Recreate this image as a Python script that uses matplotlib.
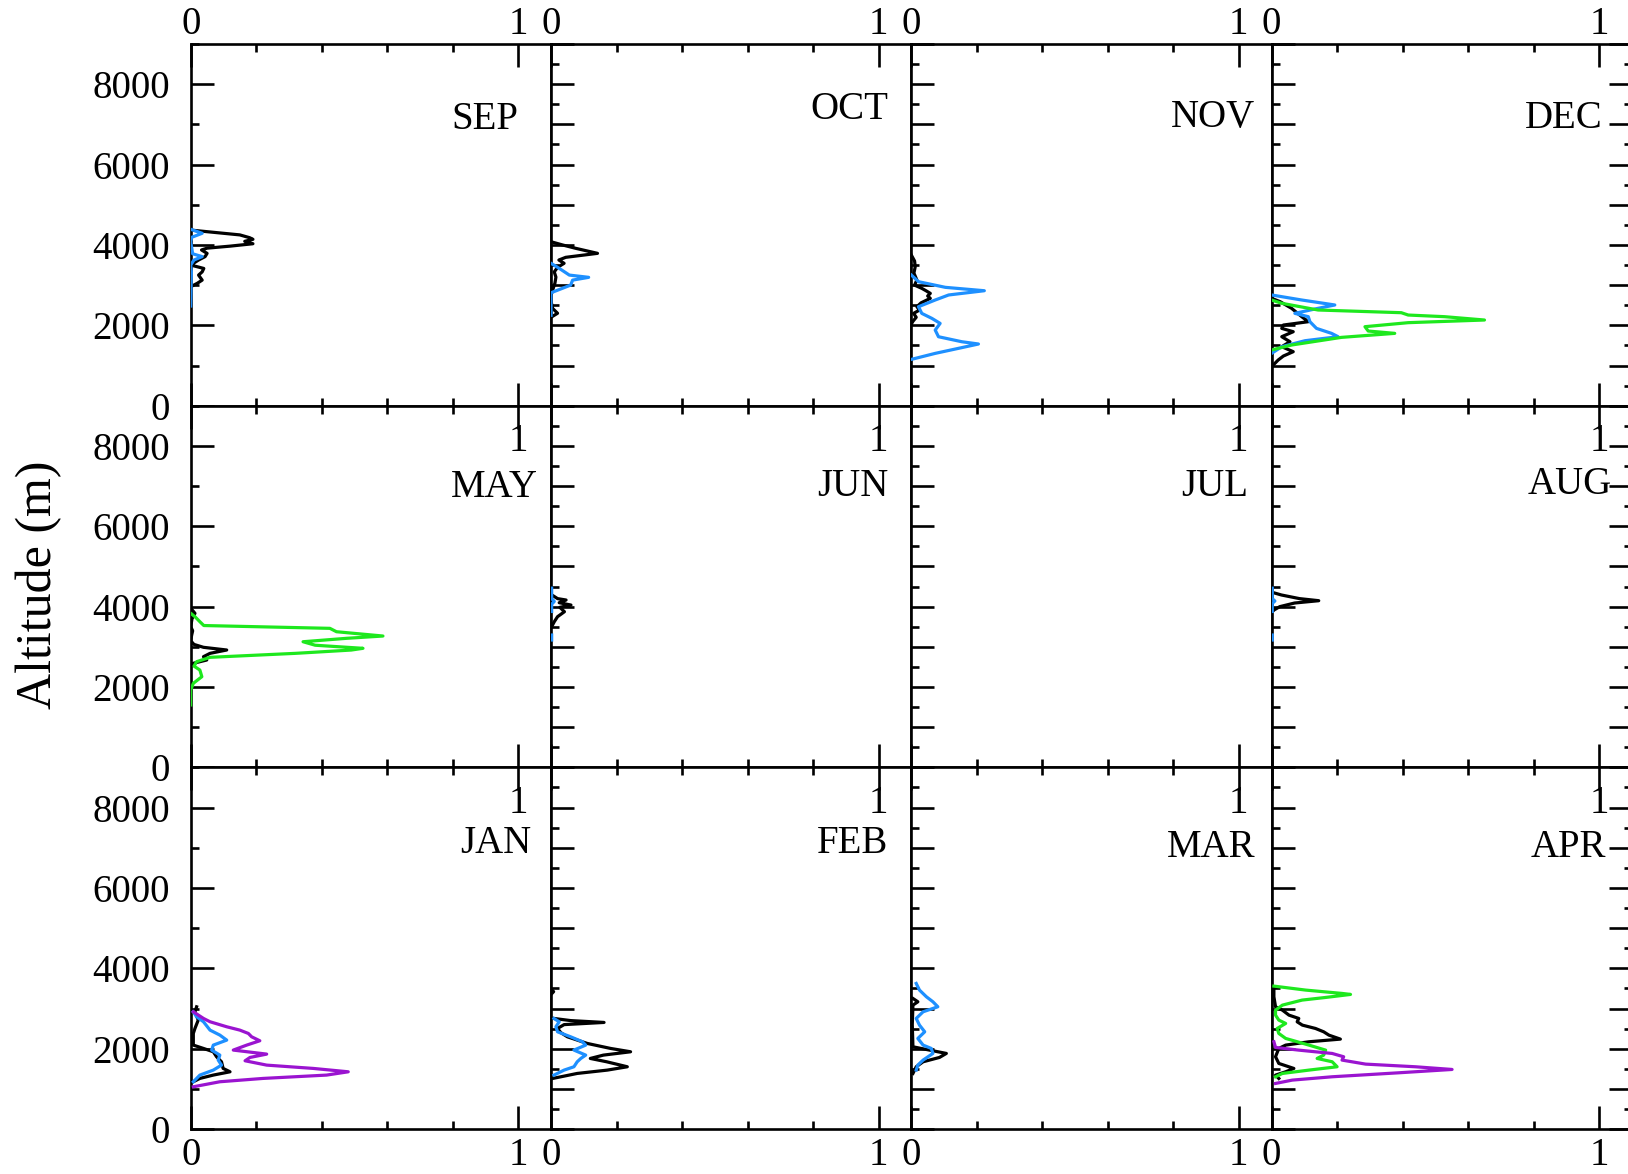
import numpy as np
import matplotlib.pyplot as plt
from matplotlib.ticker import FixedLocator, MultipleLocator

nan = np.nan

# ---- profiles: altitude (m) / normalised value, one pair per curve ----
# SEP
sep_k_alt = [4370, 4330, 4250, 4180, 4140, 4090, 4030, 3970, 3920, 3875, 3790, 3710, 3625, 3500, 3415, 3330, 3250, 3125, 3045, 2960]
sep_k = [0.0, 0.05, 0.15, 0.18, 0.19, 0.165, 0.19, 0.12, 0.05, 0.033, 0.05, 0.044, 0.024, 0.0, 0.04, 0.035, 0.024, 0.035, 0.02, 0.0]
sep_b_alt = [4390, 4290, 4190, 4080, 3780, 3710, 3625, 3500, 3330, 2480]
sep_b = [0.0, 0.035, 0.003, 0.0, 0.006, 0.035, 0.01, 0.0, 0.002, 0.0]
# OCT
oct_k_alt = [4080, 3998, 3915, 3791, 3692, 3625, 3543, 3443, 3330, 3200, 3050, 2900, 2750, 2600, 2420, 2300, 2250, 2200]
oct_k = [0.0, 0.036, 0.076, 0.142, 0.045, 0.024, 0.04, 0.02, 0.01, 0.015, 0.012, 0.006, 0.0, 0.0, 0.005, 0.02, 0.01, 0.0]
oct_b_alt = [3543, 3418, 3250, 3194, 3125, 3001, 2810, 2600, 2250]
oct_b = [0.0, 0.025, 0.056, 0.115, 0.066, 0.06, 0.0, 0.0, 0.0]
# NOV
nov_k_alt = [3750, 3600, 3459, 3300, 3127, 3000, 2920, 2860, 2795, 2730, 2671, 2560, 2463, 2380, 2297, 2200, 2100, 2030]
nov_k = [0.0, 0.01, 0.012, 0.008, 0.017, 0.01, 0.032, 0.045, 0.058, 0.05, 0.058, 0.03, 0.017, 0.025, 0.007, 0.015, 0.005, 0.0]
nov_b_alt = [3252, 3086, 2945, 2861, 2755, 2630, 2463, 2297, 2172, 2048, 1882, 1716, 1592, 1535, 1427, 1302, 1152]
nov_b = [0.0, 0.022, 0.104, 0.223, 0.114, 0.073, 0.022, 0.032, 0.063, 0.088, 0.073, 0.083, 0.154, 0.205, 0.144, 0.073, 0.0]
# DEC
dec_k_alt = [2672, 2589, 2423, 2215, 2090, 2007, 1924, 1841, 1717, 1592, 1468, 1344, 1236, 1136, 1012]
dec_k = [0.0, 0.026, 0.061, 0.092, 0.112, 0.036, 0.031, 0.066, 0.031, 0.056, 0.031, 0.066, 0.036, 0.02, 0.005]
dec_b_alt = [2755, 2630, 2506, 2423, 2298, 2215, 2090, 1924, 1800, 1717, 1617, 1468, 1302]
dec_b = [0.0, 0.092, 0.193, 0.142, 0.071, 0.112, 0.117, 0.137, 0.183, 0.203, 0.102, 0.031, 0.0]
dec_g_alt = [2630, 2548, 2381, 2314, 2256, 2215, 2132, 2066, 1966, 1858, 1800, 1700, 1510, 1386]
dec_g = [0.0, 0.031, 0.142, 0.396, 0.417, 0.528, 0.650, 0.417, 0.285, 0.295, 0.376, 0.213, 0.061, 0.0]
# MAY
may_k_alt = [3933, 3834, 3700, 3501, 3400, 3294, 3150, 3060, 2988, 2921, 2838, 2755, 2672, 2590, 2505]
may_k = [0.003, 0.013, 0.004, 0.0, 0.006, 0.003, 0.0, 0.01, 0.039, 0.11, 0.059, 0.039, 0.049, 0.008, 0.0]
may_g_alt = [3834, 3750, 3625, 3530, 3460, 3376, 3269, 3212, 3127, 3040, 2963, 2920, 2838, 2739, 2630, 2520, 2423, 2257, 2092, 1926, 1553]
may_g = [0.0, 0.013, 0.028, 0.04, 0.425, 0.445, 0.587, 0.476, 0.343, 0.38, 0.526, 0.49, 0.32, 0.059, 0.018, 0.01, 0.028, 0.034, 0.008, 0.0, 0.0]
# JUN
jun_k_alt = [4289, 4200, 4165, 4098, 4040, 3983, 3874, 3750, 3625, 3500]
jun_k = [0.003, 0.02, 0.046, 0.025, 0.061, 0.027, 0.041, 0.02, 0.01, 0.002]
jun_b_alt = [4460, 4200, 4130, 4060, 3880, nan, 3294, 3170]
jun_b = [0.002, 0.002, 0.01, 0.002, 0.002, nan, 0.002, 0.002]
# AUG
aug_k_alt = [4356, 4290, 4200, 4148, 4090, 4000, 3920, 3875]
aug_k = [0.002, 0.03, 0.085, 0.144, 0.07, 0.025, 0.008, 0.002]
aug_b_alt = [4460, 4200, 4140, 4080, 3880, nan, 3294, 3170]
aug_b = [0.002, 0.002, 0.01, 0.002, 0.002, nan, 0.002, 0.002]
# JAN
jan_k_alt = [3043, 2919, 2712, 2505, 2380, 2090, 2007, 1924, 1800, 1675, 1510, 1426, 1344, 1261, 1178]
jan_k = [0.018, 0.013, 0.023, 0.013, 0.008, 0.008, 0.039, 0.069, 0.079, 0.094, 0.099, 0.12, 0.069, 0.028, 0.008]
jan_b_alt = [2919, 2795, 2671, 2463, 2339, 2214, 2090, 1966, 1841, 1717, 1592, 1468, 1344, 1178]
jan_b = [0.008, 0.018, 0.039, 0.059, 0.089, 0.11, 0.069, 0.064, 0.089, 0.084, 0.094, 0.069, 0.028, 0.008]
jan_p_alt = [2919, 2754, 2671, 2546, 2463, 2380, 2297, 2198, 2090, 1966, 1866, 1783, 1700, 1592, 1510, 1426, 1344, 1261, 1178, 1053]
jan_p = [0.008, 0.039, 0.059, 0.11, 0.15, 0.176, 0.186, 0.211, 0.171, 0.13, 0.232, 0.181, 0.166, 0.232, 0.374, 0.481, 0.415, 0.221, 0.089, 0.008]
# FEB
feb_k_alt = [3480, 3420, 3350, nan, 2753, 2700, 2654, 2600, 2504, 2400, 2297, 2131, 2007, 1924, 1841, 1758, 1675, 1551, 1468, 1385, 1260]
feb_k = [0.0, 0.008, 0.0, nan, 0.009, 0.06, 0.162, 0.04, 0.02, 0.03, 0.05, 0.111, 0.182, 0.243, 0.16, 0.12, 0.17, 0.233, 0.172, 0.08, 0.005]
feb_b_alt = [2753, 2670, 2546, 2421, 2297, 2173, 2090, 1966, 1841, 1758, 1675, 1551, 1468, 1343]
feb_b = [0.009, 0.025, 0.015, 0.02, 0.06, 0.096, 0.106, 0.07, 0.106, 0.091, 0.08, 0.07, 0.04, 0.009]
# MAR
mar_k_alt = [3251, 3168, 3085, 2600, 2048, 1965, 1883, 1783, 1675, 1551, 1385]
mar_k = [0.005, 0.02, 0.005, 0.003, 0.005, 0.056, 0.107, 0.086, 0.036, 0.015, 0.005]
mar_b_alt = [3624, 3459, 3293, 3168, 3044, 2919, 2753, 2587, 2421, 2256, 2090, 2007, 1883, 1717, 1593, 1468]
mar_b = [0.015, 0.025, 0.046, 0.066, 0.081, 0.036, 0.015, 0.025, 0.041, 0.02, 0.036, 0.061, 0.066, 0.036, 0.02, 0.015]
# APR
apr_k_alt = [3541, 3293, 3044, 2960, 2836, 2753, 2670, 2587, 2504, 2421, 2338, 2239, 2173, 2090, 2007, 1800, 1634, 1509, 1426, 1343, 1260]
apr_k = [0.007, 0.007, 0.012, 0.033, 0.053, 0.083, 0.078, 0.094, 0.134, 0.159, 0.175, 0.21, 0.114, 0.043, 0.022, 0.012, 0.022, 0.068, 0.043, 0.012, 0.022]
apr_g_alt = [3558, 3459, 3376, 3351, 3276, 3210, 3085, 2960, 2836, 2712, 2629, 2504, 2380, 2256, 2090, 1965, 1841, 1758, 1675, 1551, 1468, 1385, 1302]
apr_g = [0.007, 0.104, 0.215, 0.241, 0.165, 0.093, 0.033, 0.012, 0.012, 0.022, 0.043, 0.017, 0.022, 0.043, 0.114, 0.165, 0.159, 0.139, 0.185, 0.2, 0.114, 0.033, 0.012]
apr_p_alt = [2173, 2032, 1965, 1882, 1800, 1717, 1617, 1551, 1484, 1401, 1302, 1219, 1136]
apr_p = [0.007, 0.012, 0.083, 0.185, 0.22, 0.215, 0.287, 0.439, 0.551, 0.388, 0.185, 0.063, 0.012]

BLACK, BLUE, GREEN, PURPLE = "#000000", "#1E90FF", "#1EE81E", "#9A14D0"

grid = [["SEP", "OCT", "NOV", "DEC"],
        ["MAY", "JUN", "JUL", "AUG"],
        ["JAN", "FEB", "MAR", "APR"]]

curves = {
    "SEP": [(sep_k_alt, sep_k, BLACK), (sep_b_alt, sep_b, BLUE)],
    "OCT": [(oct_k_alt, oct_k, BLACK), (oct_b_alt, oct_b, BLUE)],
    "NOV": [(nov_k_alt, nov_k, BLACK), (nov_b_alt, nov_b, BLUE)],
    "DEC": [(dec_k_alt, dec_k, BLACK), (dec_b_alt, dec_b, BLUE), (dec_g_alt, dec_g, GREEN)],
    "MAY": [(may_k_alt, may_k, BLACK), (may_g_alt, may_g, GREEN)],
    "JUN": [(jun_k_alt, jun_k, BLACK), (jun_b_alt, jun_b, BLUE)],
    "JUL": [],
    "AUG": [(aug_k_alt, aug_k, BLACK), (aug_b_alt, aug_b, BLUE)],
    "JAN": [(jan_k_alt, jan_k, BLACK), (jan_b_alt, jan_b, BLUE), (jan_p_alt, jan_p, PURPLE)],
    "FEB": [(feb_k_alt, feb_k, BLACK), (feb_b_alt, feb_b, BLUE)],
    "MAR": [(mar_k_alt, mar_k, BLACK), (mar_b_alt, mar_b, BLUE)],
    "APR": [(apr_k_alt, apr_k, BLACK), (apr_g_alt, apr_g, GREEN), (apr_p_alt, apr_p, PURPLE)],
}

# month label anchor (right edge, centre) in data units
label_pos = {
    "SEP": (1.00, 7130), "OCT": (1.03, 7380), "NOV": (1.05, 7180), "DEC": (1.01, 7150),
    "MAY": (1.06, 6960), "JUN": (1.03, 6980), "JUL": (1.03, 6980), "AUG": (1.04, 7030),
    "JAN": (1.04, 7110), "FEB": (1.03, 7110), "MAR": (1.05, 7000), "APR": (1.02, 7000),
}

plt.rcParams["font.family"] = ["Liberation Serif", "DejaVu Serif"]

W, H = 1628, 1174
fig = plt.figure(figsize=(W / 100, H / 100), dpi=100)

col_left = [190.7, 551.0, 911.3, 1271.6]
row_top = [44.0, 405.7, 767.4]
pw, ph = 360.3, 361.7

FS = 28
for r in range(3):
    for c in range(4):
        m = grid[r][c]
        ax = fig.add_axes([col_left[c] / W, 1 - (row_top[r] + ph) / H, pw / W, ph / H])
        for alt, val, col in curves[m]:
            ax.plot(val, alt, color=col, lw=2.3, zorder=3)
        ax.set_xlim(0, 1.1)
        ax.set_ylim(0, 9000)
        for s in ax.spines.values():
            s.set_linewidth(1.9)

        ax.xaxis.set_major_locator(FixedLocator([0, 1]))
        ax.xaxis.set_minor_locator(FixedLocator([0.2, 0.4, 0.6, 0.8]))
        if c == 0:
            ax.yaxis.set_major_locator(MultipleLocator(2000))
            ax.yaxis.set_minor_locator(MultipleLocator(1000))
        else:
            ax.yaxis.set_major_locator(MultipleLocator(1000))
            ax.yaxis.set_minor_locator(MultipleLocator(500))

        ax.tick_params(which="both", direction="in", top=True, bottom=True,
                       left=True, right=(c == 3), width=1.9,
                       labelsize=FS, labelleft=(c == 0), labelright=False,
                       labeltop=(r == 0), labelbottom=(r == 2))
        ax.tick_params(which="major", length=16.5)
        ax.tick_params(which="minor", length=6)
        ax.tick_params(axis="y", pad=15)
        ax.tick_params(axis="x", which="major", pad=(1 if r == 0 else 6))
        ax.set_xticklabels(["0", "1"])

        if r > 0:
            ax.text(1, 8100, "1", fontsize=FS, ha="center", va="center")
        lx, ly = label_pos[m]
        ax.text(lx, ly, m, fontsize=FS, ha="right", va="center")

fig.text(39 / W, 1 - 585 / H, "Altitude (m)", rotation=90, fontsize=36,
         ha="center", va="center")

fig.savefig("out.png", dpi=100)
